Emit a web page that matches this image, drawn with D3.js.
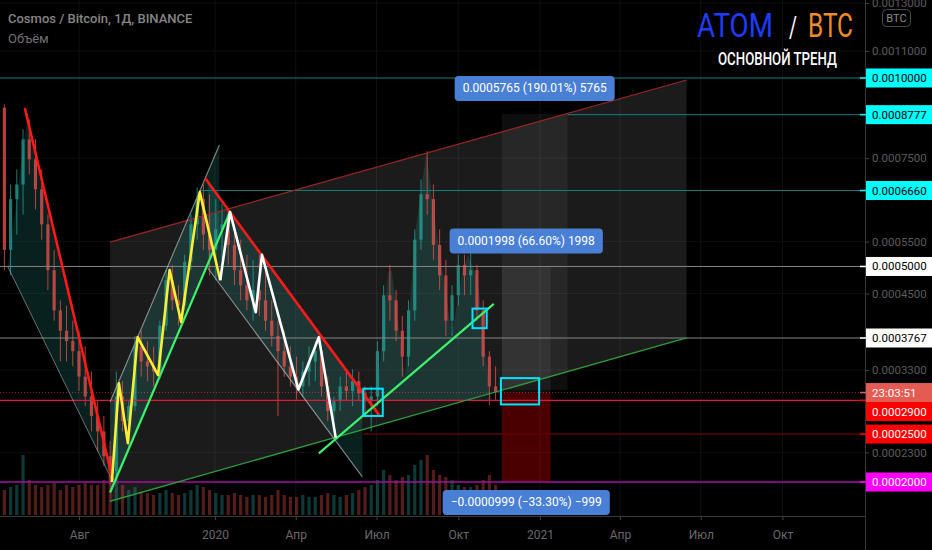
<!DOCTYPE html>
<html><head><meta charset="utf-8">
<script src="https://cdn.jsdelivr.net/npm/d3@7"></script>
<style>body{margin:0;background:#000;overflow:hidden}svg{display:block}</style>
</head><body><svg id="c" width="932" height="550"></svg>
<script>
// ---------------- DATA ----------------
const firstCandleDate = "2019-05-09"; // weekly candles (mid-week dates)
const opens = [0.000900,0.000533,0.000645,0.000681,0.000803,0.000747,0.000669,0.000587,0.000493,0.000421,
0.000388,0.000372,0.000357,0.000321,0.000295,0.000271,0.000253,0.000226,0.000211,0.000295,
0.000265,0.000283,0.000364,0.000342,0.000335,0.000328,0.000396,0.000474,0.000438,0.000429,
0.000509,0.000587,0.000645,0.000565,0.000533,0.000576,0.000587,0.000543,0.000493,0.000465,
0.000438,0.000456,0.000438,0.000404,0.000380,0.000357,0.000335,0.000321,0.000308,0.000328,
0.000342,0.000357,0.000308,0.000277,0.000289,0.000308,0.000302,0.000315,0.000299,0.000289,
0.000295,0.000357,0.000447,0.000438,0.000388,0.000349,0.000421,0.000554,0.000657,0.000645,
0.000543,0.000483,0.000404,0.000447,0.000503,0.000483,0.000493,0.000421,0.000349,0.000308];
const highs = [0.000910,0.000681,0.000720,0.000833,0.000863,0.000803,0.000720,0.000609,0.000533,0.000438,
0.000429,0.000404,0.000388,0.000364,0.000328,0.000289,0.000271,0.000242,0.000328,0.000315,
0.000289,0.000380,0.000388,0.000372,0.000364,0.000404,0.000493,0.000503,0.000465,0.000523,
0.000609,0.000674,0.000681,0.000657,0.000645,0.000633,0.000621,0.000587,0.000554,0.000523,
0.000513,0.000523,0.000493,0.000438,0.000404,0.000388,0.000364,0.000349,0.000342,0.000364,
0.000372,0.000364,0.000321,0.000295,0.000321,0.000328,0.000331,0.000328,0.000308,0.000308,
0.000372,0.000465,0.000503,0.000456,0.000412,0.000438,0.000576,0.000694,0.000769,0.000681,
0.000576,0.000513,0.000465,0.000523,0.000523,0.000533,0.000503,0.000438,0.000357,0.000335];
const lows = [0.000493,0.000483,0.000565,0.000609,0.000707,0.000621,0.000554,0.000456,0.000404,0.000342,
0.000342,0.000335,0.000302,0.000283,0.000253,0.000231,0.000216,0.000198,0.000200,0.000253,
0.000236,0.000277,0.000321,0.000315,0.000308,0.000318,0.000388,0.000421,0.000396,0.000421,
0.000493,0.000554,0.000533,0.000483,0.000474,0.000513,0.000503,0.000465,0.000438,0.000421,
0.000404,0.000412,0.000388,0.000364,0.000271,0.000321,0.000308,0.000291,0.000295,0.000308,
0.000315,0.000295,0.000265,0.000259,0.000277,0.000289,0.000283,0.000289,0.000271,0.000253,
0.000283,0.000342,0.000404,0.000372,0.000321,0.000335,0.000404,0.000533,0.000609,0.000513,
0.000456,0.000380,0.000380,0.000429,0.000447,0.000447,0.000404,0.000335,0.000284,0.000289];
const closes = [0.000533,0.000645,0.000681,0.000803,0.000747,0.000669,0.000587,0.000493,0.000421,0.000388,
0.000372,0.000357,0.000321,0.000295,0.000271,0.000253,0.000226,0.000211,0.000295,0.000265,
0.000283,0.000364,0.000342,0.000335,0.000328,0.000396,0.000474,0.000438,0.000429,0.000509,
0.000587,0.000645,0.000565,0.000533,0.000576,0.000587,0.000543,0.000493,0.000465,0.000438,
0.000456,0.000438,0.000404,0.000380,0.000357,0.000335,0.000321,0.000308,0.000328,0.000342,
0.000357,0.000308,0.000277,0.000289,0.000308,0.000302,0.000315,0.000299,0.000289,0.000295,
0.000357,0.000447,0.000438,0.000388,0.000349,0.000421,0.000554,0.000657,0.000645,0.000543,
0.000483,0.000404,0.000447,0.000503,0.000483,0.000493,0.000421,0.000349,0.000308,0.000300];
const volumes = [25,28,30,60,35,30,28,30,32,25,
30,28,30,32,30,30,35,40,45,30,
25,28,22,22,20,22,25,22,20,22,
25,30,28,25,22,20,20,22,20,18,
20,20,18,20,25,20,18,18,20,18,
18,20,22,20,18,20,22,25,28,30,
35,45,40,35,38,40,50,55,60,45,
40,38,35,30,28,28,30,35,40,30];

const timeTickDates = ["2019-08-01","2020-01-01","2020-04-01","2020-07-01","2020-10-01","2021-01-01","2021-04-01","2021-07-01","2021-10-01"];
const timeTickLabels = ["Авг","2020","Апр","Июл","Окт","2021","Апр","Июл","Окт"];
const priceTicks = [0.0013,0.0011,0.00075,0.00055,0.00045,0.00033,0.00023];

const levelPrices = [0.001,0.0008777,0.000666,0.0005,0.0003767,0.00029,0.00025,0.0002];
const levelStarts = [null,"2021-02-01","2019-12-15",null,null,null,"2020-06-15",null];
const currentPrice = 0.0003;
const countdownText = "23:03:51";

// drawings: [date, price]
const leftTriangle = [["2019-05-13",0.000499],["2019-06-03",0.000855],["2019-09-07",0.000202]];
const redLine1 = [["2019-06-01",0.000899],["2019-09-08",0.000202]];
const yellowChannelLow = [["2019-09-05",0.000190],["2020-01-18",0.000615]];
const yellowChannelHigh = [["2019-09-05",0.000288],["2020-01-06",0.000787]];
const yellowChannelFill = [["2019-09-05",0.000190],["2019-09-05",0.000288],["2020-01-06",0.000787],["2020-01-06",0.000558]];
const yellowZigzag = [["2019-09-07",0.000200],["2019-09-15",0.000312],["2019-09-25",0.000240],["2019-10-06",0.000378],["2019-10-29",0.000323],["2019-11-11",0.000493],["2019-11-24",0.000402],["2019-12-15",0.000662],["2020-01-07",0.000474]];
const whiteZigzag = [["2020-01-07",0.000474],["2020-01-18",0.000615],["2020-02-16",0.000418],["2020-02-23",0.000523],["2020-04-04",0.000304],["2020-04-27",0.000378],["2020-05-16",0.000246]];
const redLine2 = [["2019-12-21",0.000697],["2020-07-04",0.000272]];
const grayLine2 = [["2019-12-24",0.000497],["2020-06-15",0.000205]];
const whiteChannelFill = [["2019-12-24",0.000687],["2020-06-15",0.000302],["2020-06-15",0.000205],["2019-12-24",0.000497]];
const greenLine2 = [["2020-04-27",0.000229],["2020-11-10",0.000432]];
const bigChannelTop = [["2019-09-05",0.000549],["2021-06-15",0.000993]];
const bigChannelBottom = [["2019-09-05",0.000182],["2021-06-15",0.000377]];
const hsPolygon = [["2020-07-01",0.000290],["2020-07-14",0.000487],["2020-07-18",0.000493],["2020-08-02",0.000320],["2020-08-13",0.000560],["2020-08-26",0.000765],["2020-09-02",0.000636],["2020-09-13",0.000493],["2020-09-24",0.000384],["2020-10-06",0.000493],["2020-10-12",0.000523],["2020-10-23",0.000474],["2020-11-05",0.000303],["2020-11-08",0.000290]];
const cyanBoxes = [[["2020-06-16",0.000305],["2020-07-08",0.000271]],[["2020-10-17",0.000424],["2020-11-02",0.000392]],[["2020-11-18",0.000319],["2020-12-31",0.000285]]];
const positionStart = "2020-11-19";
const toolAEnd = "2021-01-13", toolAEntry = 0.0003, toolATarget = 0.0004998, toolAStop = 0.0002001;
const toolBEnd = "2021-02-01", toolBEntry = 0.0003034, toolBTarget = 0.0008799;

const titleText = "Cosmos / Bitcoin, 1Д, BINANCE";
const volumeText = "Объём";

// ---------------- RENDER ----------------
const W = 932, H = 550, plotR = 865, plotB = 516;
const FONT = "Roboto, 'Liberation Sans', sans-serif";
const P = d3.timeParse("%Y-%m-%d");
const x = d3.scaleTime().domain([P("2019-08-01"), P("2021-01-01")]).range([79, 540]);
const y = d3.scaleSymlog().constant(0.0001).domain([0.001, 0.0002]).range([78, 482]);
const yV = d3.scaleLinear().domain([0, 150]).range([515, 365]);
const pt = d => [x(P(d[0])), y(d[1])];
const line = d3.line();

const svg = d3.select("#c");
svg.append("rect").attr("width", W).attr("height", H).attr("fill", "#000");
svg.append("defs").append("clipPath").attr("id", "plot").append("rect").attr("width", plotR).attr("height", plotB);
const g = svg.append("g").attr("clip-path", "url(#plot)");

// grid
g.selectAll(".vg").data(timeTickDates).join("line")
  .attr("x1", d => x(P(d))).attr("x2", d => x(P(d))).attr("y1", 0).attr("y2", plotB)
  .attr("stroke", "#101010");
g.selectAll(".hg").data(priceTicks).join("line")
  .attr("x1", 0).attr("x2", plotR).attr("y1", d => y(d)).attr("y2", d => y(d))
  .attr("stroke", "#0e0e0e");

// big channel fill
const bcPoly = [bigChannelTop[0], bigChannelTop[1], bigChannelBottom[1], bigChannelBottom[0]].map(pt);
g.append("path").attr("d", line(bcPoly) + "Z").attr("fill", "rgba(255,255,255,0.105)");

// position tools
const rectFrom = (d1, d2, p1, p2) => {
  const xa = x(P(d1)), xb = x(P(d2)), ya = y(p1), yb = y(p2);
  return {x: Math.min(xa, xb), y: Math.min(ya, yb), w: Math.abs(xb - xa), h: Math.abs(yb - ya)};
};
const zones = [
  [rectFrom(positionStart, toolBEnd, toolBEntry, toolBTarget), "rgba(255,255,255,0.055)"],
  [rectFrom(positionStart, toolAEnd, toolAEntry, toolATarget), "rgba(255,255,255,0.06)"],
  [rectFrom(positionStart, toolAEnd, toolAEntry, toolAStop), "rgba(200,0,0,0.37)"]
];
zones.forEach(([r, c]) => g.append("rect").attr("x", r.x).attr("y", r.y).attr("width", r.w).attr("height", r.h).attr("fill", c));

// teal fills
const teal = "rgba(38,166,154,0.2)";
[leftTriangle, yellowChannelFill, whiteChannelFill, hsPolygon].forEach(poly => {
  g.append("path").attr("d", line(poly.map(pt)) + "Z").attr("fill", teal);
});

// volume
const candleDates = d3.range(opens.length).map(i => d3.timeDay.offset(P(firstCandleDate), 7 * i));
const upC = "#26a69a", dnC = "#ef5350";
g.selectAll(".vol").data(volumes).join("rect")
  .attr("x", (d, i) => x(candleDates[i]) - 1.6).attr("width", 3.2)
  .attr("y", d => yV(d)).attr("height", d => yV(0) - yV(d))
  .attr("fill", (d, i) => closes[i] >= opens[i] ? upC : dnC).attr("opacity", 0.35);

// candles
const cg = g.append("g").attr("opacity", 0.75);
opens.forEach((o, i) => {
  const cx = x(candleDates[i]);
  const col = closes[i] >= o ? upC : dnC;
  cg.append("line").attr("x1", cx).attr("x2", cx).attr("y1", y(highs[i])).attr("y2", y(lows[i]))
    .attr("stroke", col).attr("stroke-width", 1);
  const y1 = y(o), y2 = y(closes[i]);
  cg.append("rect").attr("x", cx - 1.6).attr("width", 3.2).attr("y", Math.min(y1, y2))
    .attr("height", Math.max(1, Math.abs(y2 - y1))).attr("fill", col);
});

// horizontal levels
const levelStyle = [
  {line: "#167d7d", bg: "#00ffff", fg: "#000", w: 1},
  {line: "#167d7d", bg: "#00ffff", fg: "#000", w: 1},
  {line: "#167d7d", bg: "#00ffff", fg: "#000", w: 1},
  {line: "#858585", bg: "#ffffff", fg: "#000", w: 1},
  {line: "#858585", bg: "#ffffff", fg: "#000", w: 1},
  {line: "#e0173c", bg: "#ff0000", fg: "#fff", w: 1.4},
  {line: "#600000", bg: "#ff0000", fg: "#fff", w: 1.4},
  {line: "#a010a0", bg: "#ff00ff", fg: "#fff", w: 1.4}
];
levelPrices.forEach((p, i) => {
  const x0 = levelStarts[i] ? x(P(levelStarts[i])) : 0;
  g.append("line").attr("x1", x0).attr("x2", plotR).attr("y1", y(p)).attr("y2", y(p))
    .attr("stroke", levelStyle[i].line).attr("stroke-width", levelStyle[i].w);
});
g.append("line").attr("x1", 0).attr("x2", plotR).attr("y1", y(currentPrice)).attr("y2", y(currentPrice))
  .attr("stroke", "rgba(239,83,80,0.55)").attr("stroke-dasharray", "1,2");

// drawing lines
const drawLine = (pts, color, w) => g.append("path").attr("d", line(pts.map(pt)))
  .attr("fill", "none").attr("stroke", color).attr("stroke-width", w).attr("stroke-linejoin", "round");
drawLine(bigChannelTop, "#9a2626", 1.2);
drawLine(bigChannelBottom, "#2f9a3c", 1.4);
drawLine([leftTriangle[0], leftTriangle[2]], "rgba(190,190,190,0.55)", 1);
drawLine(yellowChannelHigh, "rgba(200,200,200,0.65)", 1.1);
drawLine(grayLine2, "rgba(200,200,200,0.65)", 1.1);
drawLine(redLine1, "#ff1a1a", 2.6);
drawLine(redLine2, "#ff1a1a", 2.6);
drawLine(yellowChannelLow, "#3df26a", 2.2);
drawLine(greenLine2, "#3df26a", 2.2);
drawLine(yellowZigzag, "#ffee33", 2.6);
drawLine(whiteZigzag, "#ffffff", 2.6);

cyanBoxes.forEach(b => {
  const r = rectFrom(b[0][0], b[1][0], b[0][1], b[1][1]);
  g.append("rect").attr("x", r.x).attr("y", r.y).attr("width", r.w).attr("height", r.h)
    .attr("fill", "none").attr("stroke", "#00e5ff").attr("stroke-width", 2);
});

// position tool info labels
const f7 = d3.format(".7f");
const infoLabel = (d1, d2, entry, level, above) => {
  const diff = level - entry;
  const txt = f7(diff) + " (" + d3.format(".2f")(diff / entry * 100) + "%) " + d3.format("d")(Math.round(diff * 1e7));
  const cx = (x(P(d1)) + x(P(d2))) / 2;
  const gg = svg.append("g");
  const t = gg.append("text").attr("x", cx).attr("text-anchor", "middle").attr("font-family", FONT)
    .attr("font-size", 12).attr("fill", "#fff").text(txt);
  const tw = t.node().getComputedTextLength();
  const bh = 25, by = above ? y(level) - 13 - bh : y(level) + 8;
  gg.insert("rect", "text").attr("x", cx - tw / 2 - 8).attr("y", by).attr("width", tw + 16).attr("height", bh)
    .attr("rx", 4).attr("fill", "#4a7fd6");
  t.attr("y", by + bh / 2 + 4);
};
infoLabel(positionStart, toolBEnd, toolBEntry, toolBTarget, true);
infoLabel(positionStart, toolAEnd, toolAEntry, toolATarget, true);
infoLabel(positionStart, toolAEnd, toolAEntry, toolAStop, false);

// axes borders
svg.append("line").attr("x1", 0).attr("x2", plotR).attr("y1", plotB + 0.5).attr("y2", plotB + 0.5).attr("stroke", "#3a3a3a");
svg.append("line").attr("x1", plotR + 0.5).attr("x2", plotR + 0.5).attr("y1", 0).attr("y2", H).attr("stroke", "#333");

// bottom axis
const xAxis = svg.append("g").attr("transform", `translate(0,${plotB})`)
  .call(d3.axisBottom(x).tickValues(timeTickDates.map(P)).tickFormat((d, i) => timeTickLabels[i]).tickSize(4));
xAxis.select(".domain").remove();
xAxis.selectAll("line").attr("stroke", "#444");
xAxis.selectAll("text").attr("y", 14).attr("fill", "#6a6a6a").attr("font-size", 12).attr("font-family", FONT);

// right axis
const yAxis = svg.append("g").attr("transform", `translate(${plotR},0)`)
  .call(d3.axisRight(y).tickValues(priceTicks).tickFormat(f7).tickSize(4));
yAxis.select(".domain").remove();
yAxis.selectAll("line").attr("stroke", "#444");
yAxis.selectAll("text").attr("fill", "#5c5c5c").attr("font-size", 11.5).attr("font-family", FONT);

// price labels
const items = levelPrices.map((p, i) => ({ly: y(p), y: y(p), text: f7(p), bg: levelStyle[i].bg, fg: levelStyle[i].fg}));
items.push({ly: y(currentPrice), y: y(currentPrice), text: countdownText, bg: "#e35b52", fg: "#fff"});
items.sort((a, b) => a.y - b.y);
const LH = 19;
for (let i = 1; i < items.length; i++) if (items[i].y - items[i - 1].y < LH) items[i].y = items[i - 1].y + LH;
items.forEach(it => {
  svg.append("line").attr("x1", plotR - 5).attr("x2", plotR + 1).attr("y1", it.ly).attr("y2", it.ly).attr("stroke", it.bg).attr("stroke-width", 1.5);
  svg.append("rect").attr("x", plotR + 1).attr("y", it.y - LH / 2).attr("width", W - plotR - 1).attr("height", LH).attr("fill", it.bg);
  svg.append("text").attr("x", plotR + 7).attr("y", it.y + 4).attr("fill", it.fg).attr("font-size", 11.5)
    .attr("font-family", FONT).text(it.text);
});

// BTC badge
svg.append("rect").attr("x", 882.5).attr("y", 9.5).attr("width", 28).attr("height", 17).attr("rx", 4)
  .attr("fill", "#000").attr("stroke", "#4a4a4a");
svg.append("text").attr("x", 896.5).attr("y", 22).attr("text-anchor", "middle").attr("fill", "#8a8a8a")
  .attr("font-size", 11).attr("font-family", FONT).text("BTC");

// titles
svg.append("text").attr("x", 8).attr("y", 23).attr("fill", "#858585").attr("font-size", 13)
  .attr("font-weight", 500).attr("font-family", FONT).text(titleText);
svg.append("text").attr("x", 8).attr("y", 43).attr("fill", "#727272").attr("font-size", 13)
  .attr("font-family", FONT).text(volumeText);

// condensed big title: scale horizontally so each word fits its measured width
const squeezed = (tx, ty, txt, size, weight, color, width) => {
  const gg = svg.append("g").attr("transform", `translate(${tx},${ty})`);
  const t = gg.append("text").attr("font-size", size).attr("font-weight", weight).attr("fill", color)
    .attr("font-family", FONT).text(txt);
  const w = t.node().getComputedTextLength();
  t.attr("transform", `scale(${width / w},1)`);
};
squeezed(697, 37, "ATOM", 33, 400, "#1e3cff", 76);
squeezed(789, 37, "/", 30, 400, "#ffffff", 8);
squeezed(808, 37, "BTC", 33, 400, "#f28c28", 45);
squeezed(718, 65, "ОСНОВНОЙ ТРЕНД", 18, 500, "#ffffff", 119);
</script></body></html>
